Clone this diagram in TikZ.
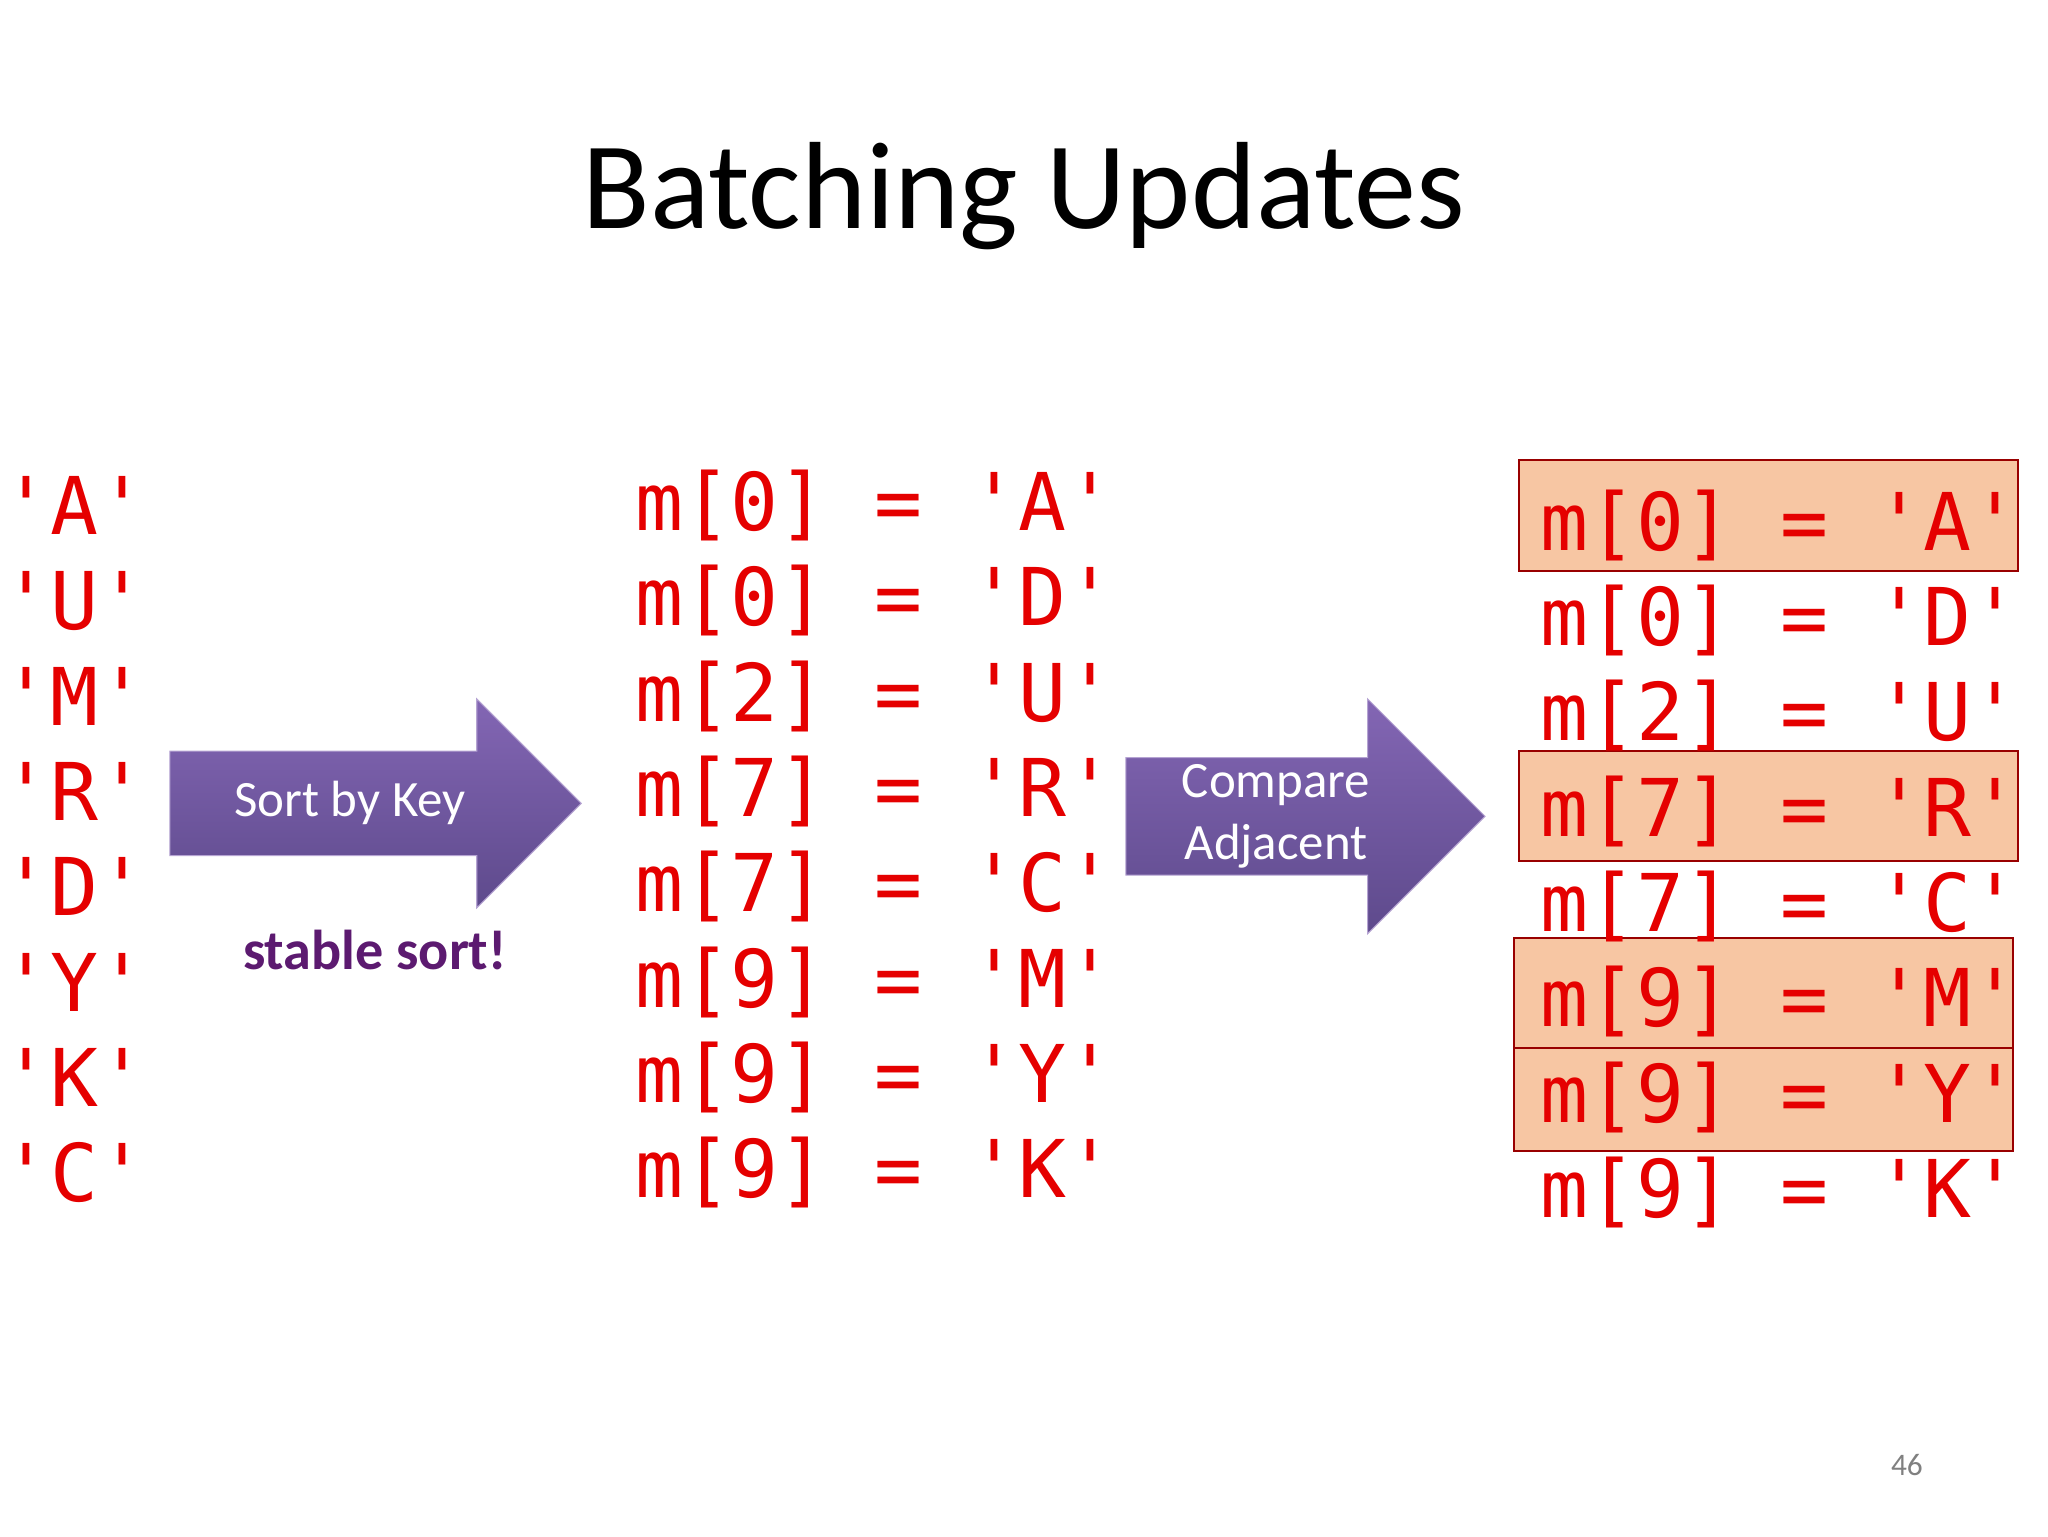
\documentclass[tikz,border=0pt]{standalone}
\usepackage{fontspec}
\setmainfont{Carlito}
\newfontfamily\monof{DejaVu Sans Mono}
\definecolor{arrtop}{HTML}{8366B4}
\definecolor{arrbot}{HTML}{5E4A8C}
\definecolor{stcol}{HTML}{5C1A70}
\definecolor{hlfill}{HTML}{F7C6A3}
\begin{document}
\begin{tikzpicture}[x=1pt,y=-1pt,
  code/.style={font=\monof\fontsize{61}{61}\selectfont, text=red!90!black, anchor=west, inner sep=0},
  hl/.style={draw=red!60!black, line width=1.5pt, fill=hlfill},
  bigarrow/.style={top color=arrtop, bottom color=arrbot, draw=arrtop!60!white, line width=0.8pt}]
\useasboundingbox (0,0) rectangle (1568,1176);
\node (title) at (784,150) {\fontsize{95}{95}\selectfont Batching Updates};
% highlight boxes
\draw[hl] (1163,352) rectangle (1545,437);
\draw[hl] (1163,575) rectangle (1545,659);
\draw[hl] (1159,718) rectangle (1541,802);
\draw[hl] (1159,802) rectangle (1541,881);
% left column
\foreach \c [count=\i] in {A,U,M,R,D,Y,K,C}
  \node[code] (l\i) at (2,{387+73*(\i-1)}) {'\c'};
% middle column
\foreach \k/\c [count=\i] in {0/A,0/D,2/U,7/R,7/C,9/M,9/Y,9/K}
  \node[code] (m\i) at (486,{387+73*(\i-1)}) {m[\k] = '\c'};
% right column
\foreach \k/\c [count=\i] in {0/A,0/D,2/U,7/R,7/C,9/M,9/Y,9/K}
  \node[code] (r\i) at (1179,{402+73*(\i-1)}) {m[\k] = '\c'};
% arrows
\path[bigarrow] (130,575) -- (365,575) -- (365,535) -- (445,615) -- (365,695) -- (365,655) -- (130,655) -- cycle;
\node[text=white, font=\fontsize{39}{39}\selectfont] (a1) at (268,615) {Sort by Key};
\path[bigarrow] (862,580) -- (1047,580) -- (1047,535) -- (1137,625) -- (1047,715) -- (1047,670) -- (862,670) -- cycle;
\node[text=white, font=\fontsize{39}{47}\selectfont, align=center] (a2) at (977,625) {Compare\\Adjacent};
\node[text=stcol, font=\bfseries\fontsize{43}{43}\selectfont] (st) at (287,727) {stable sort!};
\node[text=gray, font=\fontsize{24}{24}\selectfont] (pg) at (1460,1122) {46};
\end{tikzpicture}
\end{document}
